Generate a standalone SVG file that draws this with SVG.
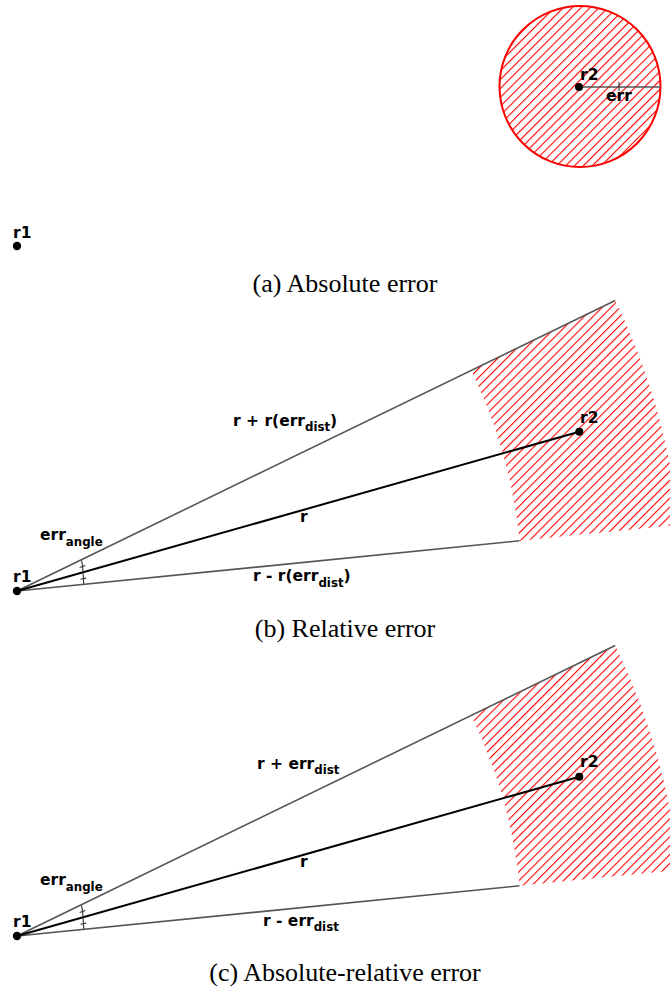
<svg xmlns="http://www.w3.org/2000/svg" width="670" height="987" viewBox="0 0 670 987">
<style>
.lbl{font-family:"DejaVu Sans",sans-serif;font-weight:bold;font-size:15.5px;fill:#000}
.sub{font-size:11.8px}
.cap{font-family:"Liberation Serif",serif;font-size:26px;fill:#000;text-anchor:middle}
.edge{stroke:#555;stroke-width:1.6;fill:none}
.main{stroke:#000;stroke-width:2;fill:none}
.thin{stroke:#333;stroke-width:1.1;fill:none}
.dot{fill:#000}
</style>
<defs>
<pattern id="hatch" patternUnits="userSpaceOnUse" width="6.3" height="6.3" patternTransform="rotate(45)">
<line x1="0" y1="-1" x2="0" y2="8" stroke="#ff0000" stroke-width="2.2"/>
</pattern>
</defs>
<rect width="670" height="987" fill="#fff"/>

<!-- Panel (a) -->
<g id="region-a">
<circle cx="580" cy="86.5" r="80.5" fill="url(#hatch)" stroke="#ff0000" stroke-width="2"/>
</g>
<g id="connectors">
<line class="edge" x1="579" y1="87" x2="660.5" y2="87"/>
<line class="thin" x1="619" y1="82" x2="619" y2="91"/>
<!-- panel b -->
<path id="region-b" d="M471.3,370.4 L615.2,300.5 A665,665 0 0 1 678.7,525 L519.5,540.8 A505,505 0 0 0 471.3,370.4 Z" fill="url(#hatch)"/>
<line class="edge" x1="17" y1="591" x2="615.2" y2="300.5"/>
<line class="edge" x1="17" y1="591" x2="519.5" y2="540.8"/>
<line class="main" x1="17" y1="591" x2="579.3" y2="431.7"/>
<path class="thin" d="M81.5,560.5 Q83,566 83,572.5 Q83.5,578.5 83.8,584.5"/>
<line class="thin" x1="79.7" y1="567.6" x2="85.3" y2="565.6"/>
<line class="thin" x1="80.5" y1="579.3" x2="86.3" y2="578.1"/>
<!-- panel c -->
<path id="region-c" d="M471.3,715.4 L615.2,645.5 A665,665 0 0 1 678.7,870 L519.5,885.8 A505,505 0 0 0 471.3,715.4 Z" fill="url(#hatch)"/>
<line class="edge" x1="17" y1="936" x2="615.2" y2="645.5"/>
<line class="edge" x1="17" y1="936" x2="519.5" y2="885.8"/>
<line class="main" x1="17" y1="936" x2="579.3" y2="776.7"/>
<path class="thin" d="M81.5,905.5 Q83,911 83,917.5 Q83.5,923.5 83.8,929.5"/>
<line class="thin" x1="79.7" y1="912.6" x2="85.3" y2="910.6"/>
<line class="thin" x1="80.5" y1="924.3" x2="86.3" y2="923.1"/>
</g>

<g id="node-r2-a">
<circle class="dot" cx="579" cy="87" r="4"/>
<text class="lbl" x="580" y="80">r2</text>
</g>
<text class="lbl" x="606" y="101">err</text>
<g id="node-r1-a">
<circle class="dot" cx="17" cy="246" r="4.2"/>
<text class="lbl" x="13" y="237.5">r1</text>
</g>
<text class="cap" x="345" y="292">(a) Absolute error</text>

<!-- Panel (b) labels/nodes -->
<g id="node-r2-b">
<circle class="dot" cx="579.3" cy="431.7" r="4"/>
<text class="lbl" x="580" y="422.5">r2</text>
</g>
<g id="node-r1-b">
<circle class="dot" cx="17" cy="591" r="4.2"/>
<text class="lbl" x="13" y="582">r1</text>
</g>
<text class="lbl" x="233" y="425.5">r + r(err<tspan class="sub" dy="5">dist</tspan><tspan dy="-5">)</tspan></text>
<text class="lbl" x="300" y="521.5">r</text>
<text class="lbl" x="40" y="540">err<tspan class="sub" dy="6">angle</tspan></text>
<text class="lbl" x="253" y="581">r - r(err<tspan class="sub" dy="5.5">dist</tspan><tspan dy="-5.5">)</tspan></text>
<text class="cap" x="345" y="637">(b) Relative error</text>

<!-- Panel (c) labels/nodes -->
<g id="node-r2-c">
<circle class="dot" cx="579.3" cy="776.7" r="4"/>
<text class="lbl" x="580" y="767">r2</text>
</g>
<g id="node-r1-c">
<circle class="dot" cx="17" cy="936" r="4.2"/>
<text class="lbl" x="13" y="926.5">r1</text>
</g>
<text class="lbl" x="257" y="768.5">r + err<tspan class="sub" dy="5">dist</tspan></text>
<text class="lbl" x="300" y="866.5">r</text>
<text class="lbl" x="40" y="885">err<tspan class="sub" dy="6">angle</tspan></text>
<text class="lbl" x="263" y="925.5">r - err<tspan class="sub" dy="5.5">dist</tspan></text>
<text class="cap" x="345" y="981">(c) Absolute-relative error</text>
</svg>
